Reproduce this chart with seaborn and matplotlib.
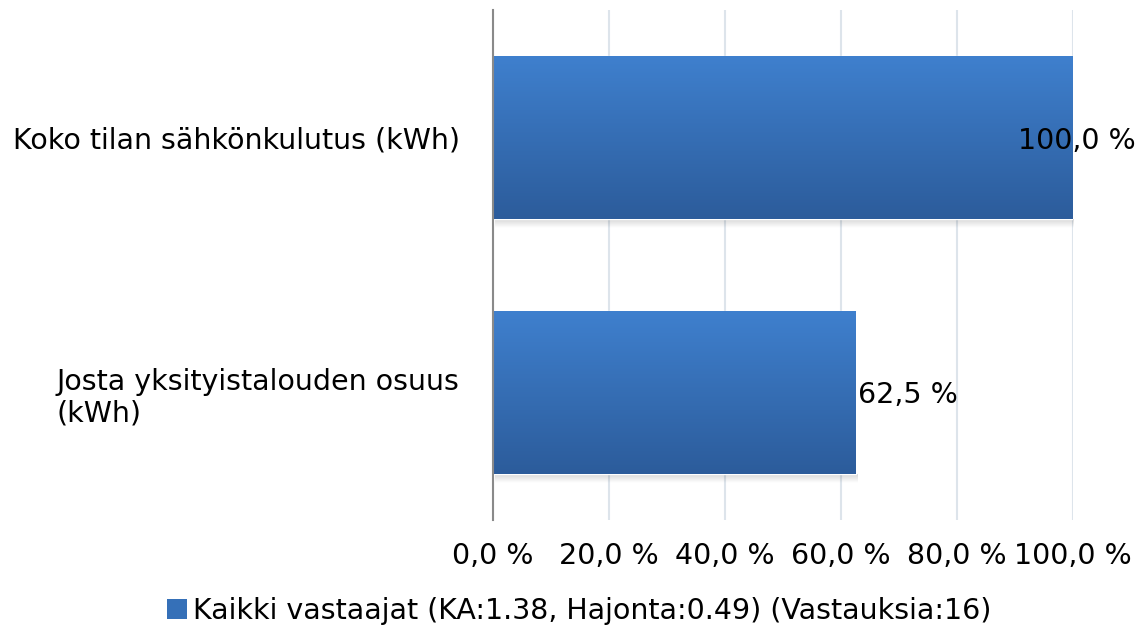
import numpy as np
import matplotlib
matplotlib.use("Agg")
import matplotlib.pyplot as plt
import seaborn as sns
from matplotlib.colors import LinearSegmentedColormap
from matplotlib.patches import Patch

# chart data
categories = ["Koko tilan sähkönkulutus (kWh)", "Josta yksityistalouden osuus\n(kWh)"]
values = [100.0, 62.5]
xticks = [0, 20, 40, 60, 80, 100]
series_name = "Kaikki vastaajat (KA:1.38, Hajonta:0.49) (Vastauksia:16)"

sns.set_style("white")
plt.rcParams["font.family"] = ["DejaVu Sans"]
plt.rcParams["text.color"] = "black"
plt.rcParams["xtick.color"] = "black"
plt.rcParams["ytick.color"] = "black"
fs = 20.5

top_col = "#3f80ce"
bot_col = "#2c5c9b"
grad = LinearSegmentedColormap.from_list("bar", [top_col, bot_col])
shade = LinearSegmentedColormap.from_list("shade", [(0, 0, 0, 0.16), (0, 0, 0, 0.0)])

fig = plt.figure(figsize=(11.45, 6.35), dpi=100)
ax = fig.add_axes([493 / 1145, 1 - 520 / 635, 580 / 1145, 510 / 635])

sns.barplot(x=values, y=categories, ax=ax, color=top_col, width=0.64,
            orient="h", saturation=1)

# gradient fill + soft shadow for each bar
g = np.linspace(0, 1, 256).reshape(-1, 1)
px = 2.0 / 510  # one pixel in data units (y)
for p in ax.patches:
    x0, y0 = p.get_x(), p.get_y()
    w, h = p.get_width(), p.get_height()
    ax.imshow(g, cmap=shade, aspect="auto",
              extent=(x0 + 0.3, x0 + w + 0.3, y0 + h + 9 * px, y0 + h),
              zorder=1, interpolation="bilinear")
    im = ax.imshow(g, cmap=grad, aspect="auto", extent=(x0, x0 + w, y0 + h, y0),
                   zorder=2, interpolation="bilinear")
    im.set_clip_path(p)
    p.set_zorder(2)
ax.set_ylim(1.5, -0.5)
ax.set_xlim(0, 100)

# value labels
for i, v in enumerate(values):
    ax.text(min(v + 0.4, 90.6), i, f"{v:.1f} %".replace(".", ","),
            va="center_baseline", ha="left", fontsize=fs, color="black", zorder=5)

ax.set_xticks(xticks)
ax.set_xticklabels([f"{t:.1f} %".replace(".", ",") for t in xticks], fontsize=fs)
ax.tick_params(axis="x", length=0, pad=16, labelcolor="black")
ax.tick_params(axis="y", length=0, pad=24, labelcolor="black")
for lbl in ax.get_yticklabels():
    lbl.set_fontsize(fs)
    lbl.set_multialignment("left")
ax.set_xlabel("")
ax.set_ylabel("")

ax.grid(axis="x", color="#dde4eb", linewidth=1.5, zorder=0)
ax.set_axisbelow(True)
for s in ["top", "right", "bottom"]:
    ax.spines[s].set_visible(False)
ax.spines["left"].set_color("#8a8a8a")
ax.spines["left"].set_linewidth(1.5)
ax.spines["left"].set_zorder(6)

handle = Patch(facecolor="#3570b8", edgecolor="none")
fig.legend([handle], [series_name], loc="center", bbox_to_anchor=(579 / 1145, 1 - 611 / 635),
           frameon=False, fontsize=fs, handlelength=0.7, handleheight=0.7,
           handletextpad=0.2, labelcolor="black")

fig.savefig("out.png", dpi=100)
